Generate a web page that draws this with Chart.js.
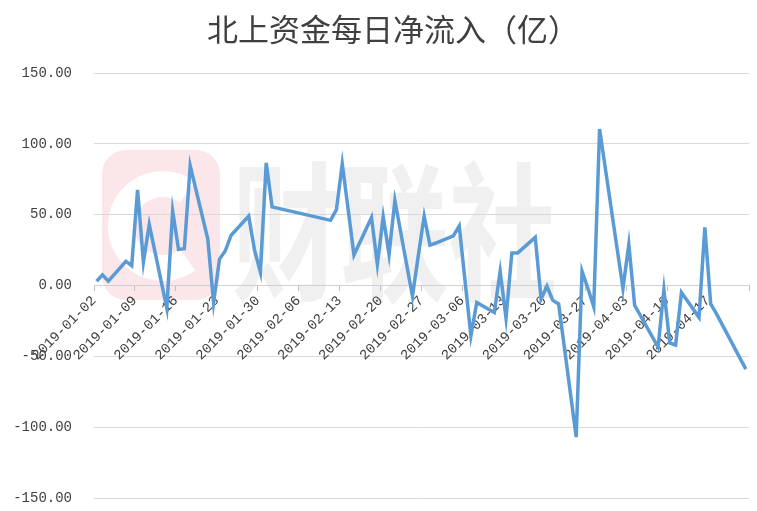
<!DOCTYPE html>
<html>
<head>
<meta charset="utf-8">
<script src="https://cdn.jsdelivr.net/npm/chart.js@4.4.0/dist/chart.umd.min.js"></script>
<style>
    html, body { margin: 0; padding: 0; background: #fff; }
    #wrap { width: 757px; height: 511px; }
</style>
</head>
<body>
<div id="wrap"><canvas id="flow-chart"></canvas></div>
<script>
// --- Chart data ---
const titleText = '北上资金每日净流入（亿）';

const tradeDates = [
    '2019-01-02', '2019-01-03', '2019-01-04', '2019-01-07', '2019-01-08', '2019-01-09', '2019-01-10', '2019-01-11',
    '2019-01-14', '2019-01-15', '2019-01-16', '2019-01-17', '2019-01-18', '2019-01-21', '2019-01-22', '2019-01-23',
    '2019-01-24', '2019-01-25', '2019-01-28', '2019-01-29', '2019-01-30', '2019-01-31', '2019-02-01', '2019-02-11',
    '2019-02-12', '2019-02-13', '2019-02-14', '2019-02-15', '2019-02-18', '2019-02-19', '2019-02-20', '2019-02-21',
    '2019-02-22', '2019-02-25', '2019-02-26', '2019-02-27', '2019-02-28', '2019-03-01', '2019-03-04', '2019-03-05',
    '2019-03-06', '2019-03-07', '2019-03-08', '2019-03-11', '2019-03-12', '2019-03-13', '2019-03-14', '2019-03-15',
    '2019-03-18', '2019-03-19', '2019-03-20', '2019-03-21', '2019-03-22', '2019-03-25', '2019-03-26', '2019-03-27',
    '2019-03-28', '2019-03-29', '2019-04-01', '2019-04-02', '2019-04-03', '2019-04-04', '2019-04-08', '2019-04-09',
    '2019-04-10', '2019-04-11', '2019-04-12', '2019-04-15', '2019-04-16', '2019-04-17', '2019-04-18', '2019-04-23'
];

const netInflow = [
    3, 7.5, 3, 17, 14, 67.5, 16.5, 43,
    -16, 52.5, 25.5, 26, 84.5, 33, -12, 18.5,
    24.5, 35.5, 49, 25, 9.5, 86.5, 55.5, 46,
    53.5, 86, 54, 21.5, 48, 15, 48.5, 22,
    60, -7.5, 21, 49, 28.5, 30, 35, 42,
    3, -35.5, -12, -19, 10, -23, 23, 23,
    34, -9.5, -0.5, -10.5, -13, -107, 10, -2,
    -15, 110.5, 26, -2, 29, -14, -43.5, -3,
    -40.5, -42, -5, -22.5, 41, -13, -20, -59
];

// weekly tick marks; the last one closes the axis and has no label
const tickDates = [
    '2019-01-02', '2019-01-09', '2019-01-16', '2019-01-23', '2019-01-30', '2019-02-06', '2019-02-13', '2019-02-20',
    '2019-02-27', '2019-03-06', '2019-03-13', '2019-03-20', '2019-03-27', '2019-04-03', '2019-04-10', '2019-04-17',
    '2019-04-24'
];
const tickLabels = tickDates.slice(0, 16);

const yMin = -150, yMax = 150, yStep = 50;

// --- helpers ---
const dayOf = s => {
    const [y, m, d] = s.split('-').map(Number);
    return (Date.UTC(y, m - 1, d) - Date.UTC(2019, 0, 2)) / 86400000;
};
const catShift = 0.45; // points sit a little right of their tick

const points = tradeDates.map((d, i) => ({ x: dayOf(d), y: netInflow[i] }));

const tickFont = { family: '"Liberation Mono", monospace', size: 14 };

// --- watermark + title drawn on the canvas ---
const decorPlugin = {
    id: 'decor',
    beforeDraw(chart) {
        const ctx = chart.ctx;
        ctx.save();
        // pink rounded logo block
        ctx.fillStyle = '#fbe6ea';
        ctx.beginPath();
        ctx.roundRect(102, 150, 118, 150, 24);
        ctx.fill();
        ctx.strokeStyle = '#ffffff';
        ctx.lineWidth = 26;
        ctx.beginPath();
        ctx.arc(163, 226, 42, 0.3 * Math.PI, 1.7 * Math.PI);
        ctx.stroke();
        // grey brand text
        ctx.fillStyle = '#f0f0f0';
        ctx.font = 'bold 150px "Noto Sans CJK SC"';
        ctx.textBaseline = 'middle';
        ctx.textAlign = 'left';
        const w = ctx.measureText('财联社').width;
        ctx.translate(232, 232);
        ctx.scale(325 / w, 1);
        ctx.fillText('财联社', 0, 0);
        ctx.restore();
    },
    afterDraw(chart) {
        const ctx = chart.ctx;
        ctx.save();
        ctx.fillStyle = '#404040';
        ctx.font = '31px "Noto Sans CJK SC"';
        ctx.textAlign = 'center';
        ctx.textBaseline = 'middle';
        ctx.fillText(titleText, 393, 29);
        ctx.restore();
    }
};

new Chart(document.getElementById('flow-chart'), {
    type: 'line',
    data: {
        datasets: [{
            label: titleText,
            data: points,
            borderColor: '#5b9bd5',
            borderWidth: 3.5,
            borderJoinStyle: 'miter',
            pointRadius: 0,
            tension: 0,
            fill: false
        }]
    },
    options: {
        responsive: true,
        maintainAspectRatio: false,
        animation: false,
        layout: { padding: { left: 13, right: 8, top: 73, bottom: 13 } },
        plugins: {
            legend: { display: false },
            tooltip: { enabled: false }
        },
        scales: {
            x: {
                type: 'linear',
                position: { y: 0 },
                min: dayOf(tickDates[0]) - catShift,
                max: dayOf(tickDates[tickDates.length - 1]) - catShift,
                afterBuildTicks: scale => {
                    scale.ticks = tickDates.map(d => ({ value: dayOf(d) - catShift }));
                },
                afterFit: scale => {
                    scale.paddingLeft = 0;
                    scale.paddingRight = 0;
                    scale.paddingTop = 0;
                    scale.paddingBottom = 0;
                },
                grid: { display: true, drawOnChartArea: false, drawTicks: true, tickLength: 5, color: '#bfbfbf' },
                border: { display: true, color: '#d0d0d0', width: 1 },
                ticks: {
                    autoSkip: false,
                    minRotation: 45,
                    maxRotation: 45,
                    padding: 2,
                    color: '#404040',
                    font: tickFont,
                    callback: (v, i) => tickLabels[i] || ''
                }
            },
            y: {
                min: yMin,
                max: yMax,
                afterFit: scale => {
                    // label column + gap, without Chart.js doubling the padding
                    scale.width = 81;
                    scale.paddingTop = 0;
                    scale.paddingBottom = 0;
                },
                grid: { color: '#d9d9d9', drawTicks: false, lineWidth: 1 },
                border: { display: false },
                ticks: {
                    stepSize: yStep,
                    padding: 22,
                    color: '#404040',
                    font: tickFont,
                    callback: v => v.toFixed(2)
                }
            }
        }
    },
    plugins: [decorPlugin]
});
</script>
</body>
</html>
